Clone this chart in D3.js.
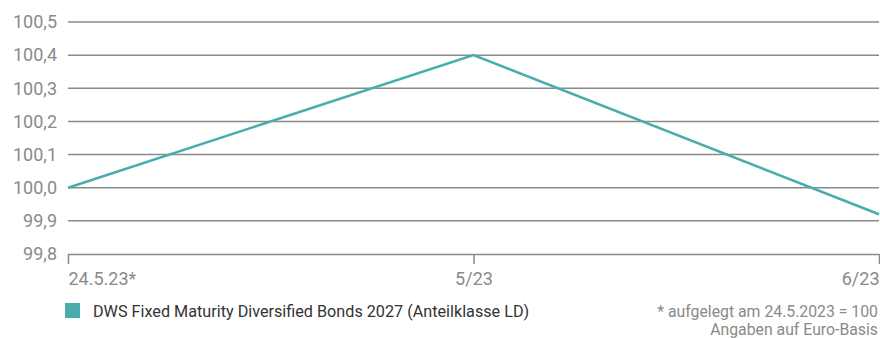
<!DOCTYPE html>
<html>
<head>
<meta charset="utf-8">
<script src="https://cdn.jsdelivr.net/npm/d3@7"></script>
<style>
    body { margin: 0; background: #fff; }
    svg { display: block; font-family: Roboto, "Noto Sans", sans-serif; }
</style>
</head>
<body>
<div id="chart"></div>
<script>
    const categories = ["24.5.23*", "5/23", "6/23"];
    const values = [100.0, 100.4, 99.92];
    const yTicks = [99.8, 99.9, 100.0, 100.1, 100.2, 100.3, 100.4, 100.5];
    const seriesName = "DWS Fixed Maturity Diversified Bonds 2027 (Anteilklasse LD)";
    const notes = ["* aufgelegt am 24.5.2023 = 100", "Angaben auf Euro-Basis"];

    const width = 880, height = 338;
    const margin = { top: 22, right: 1, bottom: 84, left: 68 };
    const color = "#4aadad";

    const svg = d3.select("#chart")
        .append("svg")
        .attr("width", width)
        .attr("height", height);

    const x = d3.scalePoint()
        .domain(categories)
        .range([margin.left, width - margin.right]);

    const y = d3.scaleLinear()
        .domain([99.8, 100.5])
        .range([height - margin.bottom, margin.top]);

    const fmt = v => d3.format(".1f")(v).replace(".", ",");

    // gridlines + y labels
    const grid = svg.append("g");
    grid.selectAll("line")
        .data(yTicks.filter(t => t > 99.8))
        .enter().append("line")
        .attr("x1", margin.left)
        .attr("x2", width - margin.right)
        .attr("y1", d => y(d))
        .attr("y2", d => y(d))
        .attr("stroke", "#8a8a8a")
        .attr("stroke-width", 1.5);

    grid.selectAll("text")
        .data(yTicks)
        .enter().append("text")
        .attr("x", 57)
        .attr("y", d => y(d))
        .attr("dy", "0.35em")
        .attr("text-anchor", "end")
        .attr("fill", "#8a8a8a")
        .attr("font-size", 18)
        .text(fmt);

    // bottom axis
    const xAxis = svg.append("g")
        .attr("transform", `translate(0,${y(99.8)})`)
        .call(d3.axisBottom(x).tickSize(10).tickPadding(8).tickSizeOuter(0));
    xAxis.select(".domain").attr("stroke", "#8a8a8a").attr("stroke-width", 1.5);
    xAxis.selectAll(".tick line").attr("stroke", "#8a8a8a").attr("stroke-width", 1.5);
    xAxis.selectAll(".tick text")
        .attr("fill", "#8a8a8a")
        .attr("font-size", 18)
        .attr("font-family", "Roboto, sans-serif")
        .attr("text-anchor", (d, i) => i === 0 ? "start" : (i === categories.length - 1 ? "end" : "middle"));

    // line
    const line = d3.line()
        .x((d, i) => x(categories[i]))
        .y(d => y(d));

    svg.append("path")
        .datum(values)
        .attr("fill", "none")
        .attr("stroke", color)
        .attr("stroke-width", 2.5)
        .attr("d", line);

    // legend
    svg.append("rect")
        .attr("x", 65).attr("y", 303)
        .attr("width", 15).attr("height", 15)
        .attr("fill", color);
    svg.append("text")
        .attr("x", 93).attr("y", 317)
        .attr("fill", "#333")
        .attr("font-size", 16.2)
        .text(seriesName);

    // notes
    svg.selectAll(".note")
        .data(notes)
        .enter().append("text")
        .attr("class", "note")
        .attr("x", width - 2)
        .attr("y", (d, i) => 317 + i * 18)
        .attr("text-anchor", "end")
        .attr("fill", "#8a8a8a")
        .attr("font-size", 15.8)
        .text(d => d);
</script>
</body>
</html>
